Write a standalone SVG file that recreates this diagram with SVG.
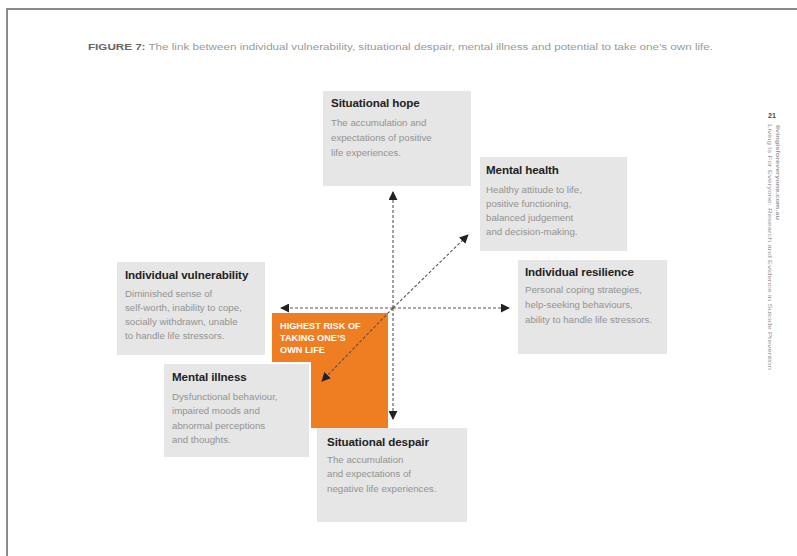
<svg xmlns="http://www.w3.org/2000/svg" width="797" height="556" viewBox="0 0 797 556">
<defs>
<style>
.box{fill:#e6e6e6}
.t{font-family:"Liberation Sans",Arial,sans-serif;font-weight:bold;font-size:11.6px;fill:#222;letter-spacing:-0.1px}
.b{font-family:"Liberation Sans",Arial,sans-serif;font-size:9.7px;fill:#939393}
.o{font-family:"Liberation Sans",Arial,sans-serif;font-weight:bold;font-size:9.2px;fill:#fff}
.ln{stroke:#555;stroke-width:1.1;stroke-dasharray:3 2;fill:none;marker-end:url(#ah)}
.side{font-family:"Liberation Sans",Arial,sans-serif;font-size:6px;fill:#999}
</style>
<marker id="ah" viewBox="0 0 10 10" refX="9" refY="5" markerWidth="9" markerHeight="9" markerUnits="userSpaceOnUse" orient="auto">
<path d="M0,0 L10,5 L0,10 z" fill="#222"/>
</marker>
</defs>
<rect width="797" height="556" fill="#fff"/>
<path d="M7,556 V9 H797" fill="none" stroke="#8a8a8a" stroke-width="2"/>
<text x="88" y="50" font-family="Liberation Sans,Arial,sans-serif" font-size="8.4" fill="#999" textLength="625" lengthAdjust="spacingAndGlyphs"><tspan font-weight="bold" fill="#666">FIGURE 7:</tspan> The link between individual vulnerability, situational despair, mental illness and potential to take one’s own life.</text>

<g id="side">
<text x="772" y="118" font-family="Liberation Sans,Arial,sans-serif" font-size="7" font-weight="bold" fill="#444" text-anchor="middle">21</text>
<text class="side" transform="translate(768,124) rotate(90)" textLength="246" lengthAdjust="spacingAndGlyphs">Living Is For Everyone: Research and Evidence in Suicide Prevention</text>
<text class="side" transform="translate(776,125) rotate(90)" font-weight="bold" fill="#555" textLength="95" lengthAdjust="spacingAndGlyphs">livingisforeveryone.com.au</text>
</g>

<g id="orange">
<rect x="272" y="313" width="116" height="115" fill="#ef7d22"/>
<text class="o" x="280" y="329">HIGHEST RISK OF</text>
<text class="o" x="280" y="341">TAKING ONE’S</text>
<text class="o" x="280" y="353">OWN LIFE</text>
</g>

<g id="hope">
<rect class="box" x="323" y="91" width="148" height="95"/>
<text class="t" x="331" y="107">Situational hope</text>
<text class="b" x="331" y="126">The accumulation and</text>
<text class="b" x="331" y="141">expectations of positive</text>
<text class="b" x="331" y="156">life experiences.</text>
</g>

<g id="health">
<rect class="box" x="480" y="157" width="147" height="94"/>
<text class="t" x="486" y="174">Mental health</text>
<text class="b" x="486" y="193">Healthy attitude to life,</text>
<text class="b" x="486" y="207">positive functioning,</text>
<text class="b" x="486" y="221">balanced judgement</text>
<text class="b" x="486" y="235">and decision-making.</text>
</g>

<g id="vulnerability">
<rect class="box" x="117" y="262" width="148" height="93"/>
<text class="t" x="125" y="279">Individual vulnerability</text>
<text class="b" x="125" y="297">Diminished sense of</text>
<text class="b" x="125" y="311">self-worth, inability to cope,</text>
<text class="b" x="125" y="325">socially withdrawn, unable</text>
<text class="b" x="125" y="339">to handle life stressors.</text>
</g>

<g id="resilience">
<rect class="box" x="518" y="260" width="149" height="94"/>
<text class="t" x="525" y="276">Individual resilience</text>
<text class="b" x="525" y="293">Personal coping strategies,</text>
<text class="b" x="525" y="308">help-seeking behaviours,</text>
<text class="b" x="525" y="323">ability to handle life stressors.</text>
</g>

<g id="illness">
<rect class="box" x="163" y="363" width="147" height="95" stroke="#fff" stroke-width="2"/>
<text class="t" x="172" y="381">Mental illness</text>
<text class="b" x="172" y="400">Dysfunctional behaviour,</text>
<text class="b" x="172" y="414">impaired moods and</text>
<text class="b" x="172" y="429">abnormal perceptions</text>
<text class="b" x="172" y="443">and thoughts.</text>
</g>

<g id="despair">
<rect class="box" x="317" y="428" width="150" height="94"/>
<text class="t" x="327" y="446">Situational despair</text>
<text class="b" x="327" y="463">The accumulation</text>
<text class="b" x="327" y="477">and expectations of</text>
<text class="b" x="327" y="492">negative life experiences.</text>
</g>

<g id="connectors">
<line class="ln" x1="393" y1="308" x2="393" y2="192"/>
<line class="ln" x1="393" y1="308" x2="393" y2="419"/>
<line class="ln" x1="393" y1="308" x2="509" y2="308"/>
<line class="ln" x1="393" y1="308" x2="281" y2="308"/>
<line class="ln" x1="393" y1="308" x2="468" y2="235"/>
<line class="ln" x1="393" y1="308" x2="322" y2="381"/>
</g>
</svg>
